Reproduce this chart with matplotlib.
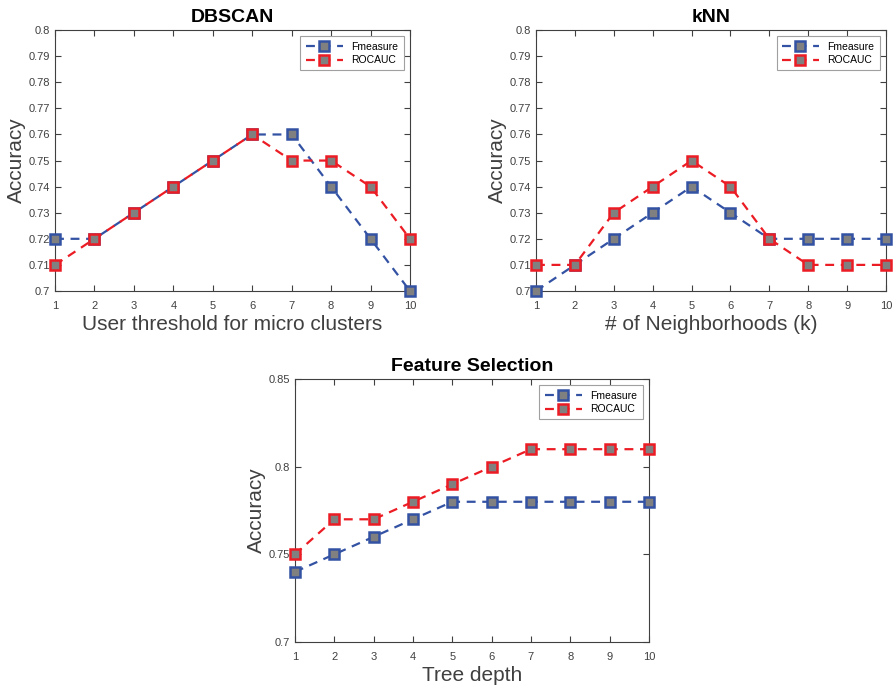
import matplotlib
matplotlib.use("Agg")
import matplotlib.pyplot as plt
import numpy as np

x_vals = np.arange(1, 11)

dbscan_fmeasure = [0.72, 0.72, 0.73, 0.74, 0.75, 0.76, 0.76, 0.74, 0.72, 0.70]
dbscan_rocauc = [0.71, 0.72, 0.73, 0.74, 0.75, 0.76, 0.75, 0.75, 0.74, 0.72]

knn_fmeasure = [0.70, 0.71, 0.72, 0.73, 0.74, 0.73, 0.72, 0.72, 0.72, 0.72]
knn_rocauc = [0.71, 0.71, 0.73, 0.74, 0.75, 0.74, 0.72, 0.71, 0.71, 0.71]

fs_fmeasure = [0.74, 0.75, 0.76, 0.77, 0.78, 0.78, 0.78, 0.78, 0.78, 0.78]
fs_rocauc = [0.75, 0.77, 0.77, 0.78, 0.79, 0.80, 0.81, 0.81, 0.81, 0.81]

BLUE = "#3352a3"
RED = "#ec1c24"
GRAY = "#404040"

plt.rcParams["font.family"] = "Liberation Sans"


def fmt_tick(v):
    s = f"{v:.2f}".rstrip("0").rstrip(".")
    return s


def draw_panel(ax, fmeasure, rocauc, title, xlabel, yticks):
    ax.plot(x_vals, fmeasure, "--s", color=BLUE, lw=1.6, ms=7,
            mfc="#808080", mec=BLUE, mew=1.8, label="Fmeasure",
            clip_on=False, zorder=3, dashes=(4, 3))
    ax.plot(x_vals, rocauc, "--s", color=RED, lw=1.6, ms=7,
            mfc="#808080", mec=RED, mew=1.8, label="ROCAUC",
            clip_on=False, zorder=4, dashes=(4, 3))

    ax.set_xlim(1, 10)
    ax.set_ylim(yticks[0], yticks[-1])
    ax.set_xticks(x_vals)
    ax.set_yticks(yticks)
    ax.set_yticklabels([fmt_tick(v) for v in yticks])
    ax.tick_params(direction="in", top=True, right=True, labelsize=8,
                   colors=GRAY, length=4, width=0.8)
    ax.tick_params(axis="x", pad=7)
    for side in ax.spines.values():
        side.set_color(GRAY)
        side.set_linewidth(0.8)

    ax.set_title(title, fontsize=14, fontweight="bold", pad=6)
    ax.set_xlabel(xlabel, fontsize=15, color=GRAY, labelpad=3)
    ax.set_ylabel("Accuracy", fontsize=15, color=GRAY, labelpad=2)

    leg = ax.legend(loc="upper right", fontsize=7.5, handlelength=3.6,
                    borderpad=0.5, labelspacing=0.35, fancybox=False,
                    framealpha=1, borderaxespad=0.6)
    leg.get_frame().set_edgecolor("#a0a0a0")
    leg.get_frame().set_linewidth(0.8)


fig = plt.figure(figsize=(8.93, 6.90), dpi=100)

ax1 = fig.add_axes([0.0616, 0.5783, 0.3975, 0.378])
ax2 = fig.add_axes([0.6002, 0.5783, 0.3920, 0.378])
ax3 = fig.add_axes([0.3303, 0.0696, 0.3964, 0.381])

acc_ticks = np.round(np.arange(0.70, 0.805, 0.01), 2)
fs_ticks = [0.70, 0.75, 0.80, 0.85]

draw_panel(ax1, dbscan_fmeasure, dbscan_rocauc, "DBSCAN",
           "User threshold for micro clusters", acc_ticks)
draw_panel(ax2, knn_fmeasure, knn_rocauc, "kNN",
           "# of Neighborhoods (k)", acc_ticks)
draw_panel(ax3, fs_fmeasure, fs_rocauc, "Feature Selection",
           "Tree depth", fs_ticks)

fig.savefig("out.png", dpi=100)
